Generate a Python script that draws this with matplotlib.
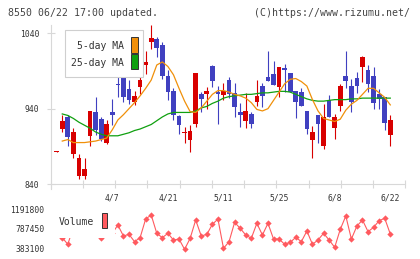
import numpy as np
import matplotlib
matplotlib.use("Agg")
import matplotlib.pyplot as plt
import matplotlib.transforms as mtransforms
from matplotlib.patches import Rectangle
from matplotlib.lines import Line2D

# daily candles, oldest first (61 sessions up to 06/22)
opens = [883, 913, 929, 880, 851, 851, 904, 936, 926, 895, 935, 973, 983, 966, 949, 969,
         998, 1028, 1032, 1025, 984, 964, 930, 908, 899, 920, 959, 960, 997, 962, 958,
         978, 961, 936, 924, 933, 949, 970, 982, 986, 969, 994, 988, 963, 962, 937,
         899, 932, 891, 951, 915, 943, 983, 970, 981, 995, 991, 983, 960, 955, 905]
highs = [884, 931, 931, 914, 880, 875, 937, 956, 929, 925, 953, 984, 985, 978, 963, 991,
         1017, 1051, 1035, 1028, 991, 967, 932, 916, 918, 987, 962, 969, 998, 970, 974,
         982, 974, 948, 961, 935, 978, 974, 1017, 1003, 995, 999, 988, 964, 967, 937,
         917, 932, 946, 958, 933, 973, 1016, 979, 989, 1010, 998, 995, 966, 955, 932]
lows = [883, 909, 890, 875, 846, 846, 890, 905, 897, 893, 918, 956, 949, 946, 945, 960,
        986, 1019, 1009, 980, 952, 925, 906, 894, 883, 916, 936, 939, 969, 920, 952,
        954, 929, 916, 915, 915, 943, 942, 977, 971, 955, 962, 962, 928, 944, 907,
        875, 895, 887, 929, 900, 937, 967, 936, 961, 975, 962, 940, 940, 912, 890]
closes = [884, 924, 902, 909, 874, 860, 937, 912, 900, 919, 932, 971, 955, 951, 957, 978,
          1002, 1034, 1020, 984, 962, 932, 918, 909, 911, 987, 953, 963, 977, 959, 964,
          959, 942, 932, 937, 920, 957, 957, 977, 971, 995, 991, 962, 949, 944, 913,
          909, 920, 929, 929, 929, 970, 977, 949, 970, 1008, 973, 947, 953, 921, 925]

# moving averages as drawn
ma5 = [np.nan, 897, 899, 895, 895, 895, 896, 897, 899, 901, 912, 925, 932, 940, 948, 957,
       967, 978, 998, 1002, 996, 985, 967, 950, 936, 935, 941, 950, 959, 964, 964,
       962, 959, 957, 954, 948, 939, 937, 940, 951, 962, 973, 979, 980, 976, 970,
       952, 937, 927, 925, 923, 926, 938, 946, 951, 959, 967, 967, 961, 955, 945]
ma25 = [np.nan, 933, 931, 927, 922, 918, 914, 909, 906, 904, 904, 904, 906, 908, 911, 913,
        916, 919, 924, 929, 933, 935, 935, 935, 935, 937, 941, 943, 947, 950, 954,
        956, 957, 958, 959, 959, 960, 961, 961, 962, 963, 963, 962, 959, 956, 953,
        951, 950, 950, 951, 952, 952, 952, 953, 953, 954, 954, 954, 954, 954, 954]

volume = [np.nan, 602000, 465000, 820000, 1000000, 900000, 850000, 760000, 588000, 720000,
          691000, 862000, 636000, 670000, 520000, 602000, 986000, 1068000, 691000, 602000,
          691000, 554000, 574000, 362000, 588000, 965000, 636000, 670000, 876000, 986000,
          382000, 520000, 917000, 794000, 657000, 588000, 897000, 657000, 897000, 574000,
          574000, 465000, 506000, 609000, 520000, 739000, 465000, 554000, 691000, 554000,
          403000, 773000, 1048000, 574000, 842000, 965000, 725000, 815000, 952000, 1000000,
          677000]

date_labels = ["4/7", "4/21", "5/11", "5/25", "6/8", "6/22"]
date_idx = [10, 20, 30, 40, 50, 60]
price_ticks = [840, 940, 1040]
volume_ticks = [383100, 787450, 1191800]

RED = "#d80000"
BLUE = "#4040c0"
ORANGE = "#f0900a"
GREEN = "#10a010"
VOLC = "#ff5a5f"
GRID = "#d8d8d8"
TXT = "#333333"

plt.rcParams["font.family"] = "DejaVu Sans Mono"

W, H = 420, 259
def fx(px):
    return px / W
def fy(py):
    return 1 - py / H

fig = plt.figure(figsize=(W / 100, H / 100), dpi=100)

x = np.arange(len(closes))
o = np.array(opens, float)
c = np.array(closes, float)
hi = np.array(highs, float)
lo = np.array(lows, float)
cols = np.where(c >= o, RED, BLUE)
xlim = (-1.08, 62.7)

# price panel
ax = fig.add_axes([fx(50.7), fy(184), (405.3 - 50.7) / W, (184 - 24.3) / H])
ax.set_xlim(*xlim)
ax.set_ylim(840, 1052)
ax.vlines(x, lo, hi, colors=cols, lw=0.8)
ax.bar(x, np.maximum(np.abs(c - o), 1.4), bottom=np.minimum(o, c), width=0.84,
       color=cols, lw=0)
ax.plot(x, ma25, color=GREEN, lw=0.9)
ax.plot(x, ma5, color=ORANGE, lw=0.9)
for s in ax.spines.values():
    s.set_visible(False)
ax.set_xticks(np.linspace(xlim[0], xlim[1], 12))
ax.tick_params(axis="x", direction="inout", length=5.5, width=0.8, color=GRID,
               labelbottom=False)
ax.set_yticks(price_ticks)
ax.tick_params(axis="y", direction="inout", length=6, width=0.8, color=GRID,
               labelsize=5.8, labelcolor=TXT, pad=5)
trans = mtransforms.blended_transform_factory(ax.transData, ax.transAxes)
for i, lab in zip(date_idx, date_labels):
    ax.text(i, -0.0895, lab, transform=trans, ha="center", va="center",
            fontsize=5.8, color=TXT)

fig.add_artist(Line2D([fx(50.7)] * 2, [fy(25), fy(189)], color=GRID, lw=0.8))
fig.add_artist(Line2D([fx(50.7), fx(405.3)], [fy(184)] * 2, color=GRID, lw=0.8))

# price legend
fig.add_artist(Rectangle((fx(65), fy(77.3)), fx(143.3) - fx(65), fy(30) - fy(77.3),
                         transform=fig.transFigure, fc="white", ec="#cfcfcf", lw=0.8,
                         zorder=3))
fig.text(fx(124), fy(46), "5-day MA", ha="right", va="center", fontsize=7,
         color=TXT, zorder=4)
fig.text(fx(124), fy(63.3), "25-day MA", ha="right", va="center", fontsize=7,
         color=TXT, zorder=4)
fig.add_artist(Rectangle((fx(131), fy(52.7)), fx(137.7) - fx(131), fy(37.3) - fy(52.7),
                         transform=fig.transFigure, fc=ORANGE, ec="#333333", lw=0.7,
                         zorder=4))
fig.add_artist(Rectangle((fx(131), fy(69.3)), fx(137.7) - fx(131), fy(54) - fy(69.3),
                         transform=fig.transFigure, fc=GREEN, ec="#333333", lw=0.7,
                         zorder=4))

# volume panel
ax2 = fig.add_axes([fx(50.7), fy(253), (405.3 - 50.7) / W, 50 / H])
ax2.set_xlim(*xlim)
ax2.set_ylim(286400, 1315300)
ax2.plot(x, volume, color=VOLC, lw=0.8, marker="D", ms=3.2, mec="none")
for s in ax2.spines.values():
    s.set_visible(False)
ax2.set_xticks([])
ax2.set_yticks(volume_ticks)
ax2.set_yticklabels([str(v) for v in volume_ticks])
ax2.tick_params(axis="y", length=0, pad=4.6, labelsize=5.8, labelcolor=TXT)

fig.add_artist(Rectangle((fx(50), fy(237.7)), fx(115) - fx(50), fy(203) - fy(237.7),
                         transform=fig.transFigure, fc="white", ec="none", zorder=3))
fig.text(fx(58.7), fy(221.7), "Volume", ha="left", va="center", fontsize=7,
         color=TXT, zorder=4)
fig.add_artist(Rectangle((fx(101.7), fy(228.3)), fx(107.3) - fx(101.7), fy(213.3) - fy(228.3),
                         transform=fig.transFigure, fc=VOLC, ec="#333333", lw=0.7,
                         zorder=4))

fig.text(fx(8.3), fy(12.7), "8550 06/22 17:00 updated.", ha="left", va="center",
         fontsize=7.1, color="#444444")
fig.text(fx(410), fy(12.7), "(C)https://www.rizumu.net/", ha="right", va="center",
         fontsize=7.1, color="#444444")

fig.savefig("out.png", dpi=100)
